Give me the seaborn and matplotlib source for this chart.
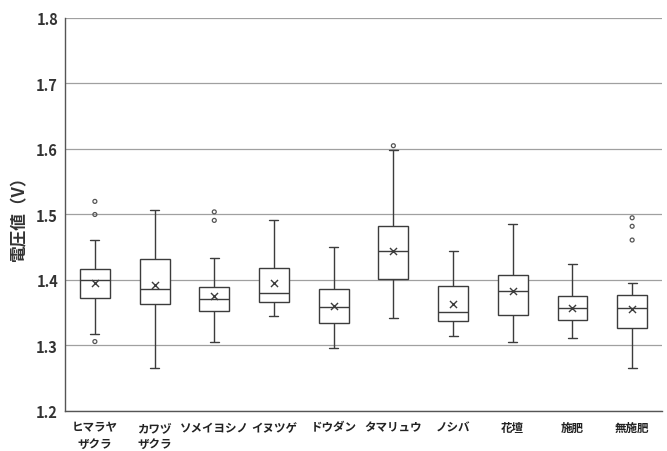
import numpy as np
import pandas as pd
import matplotlib
matplotlib.use("Agg")
import matplotlib.pyplot as plt
import seaborn as sns

categories = ["ヒマラヤ\nザクラ", "カワヅ\nザクラ", "ソメイヨシノ", "イヌツゲ", "ドウダン",
              "タマリュウ", "ノシバ", "花壇", "施肥", "無施肥"]
whisker_low = [1.318, 1.266, 1.306, 1.345, 1.296, 1.342, 1.314, 1.306, 1.312, 1.266]
q1 = [1.372, 1.364, 1.352, 1.367, 1.334, 1.402, 1.338, 1.346, 1.339, 1.327]
median = [1.400, 1.387, 1.371, 1.380, 1.359, 1.444, 1.351, 1.383, 1.357, 1.358]
q3 = [1.417, 1.432, 1.389, 1.419, 1.387, 1.482, 1.391, 1.408, 1.376, 1.377]
whisker_high = [1.461, 1.507, 1.434, 1.492, 1.450, 1.599, 1.445, 1.485, 1.425, 1.396]
means = [1.396, 1.393, 1.376, 1.395, 1.360, 1.444, 1.364, 1.383, 1.358, 1.356]
outliers = [[1.520, 1.500, 1.306], [], [1.504, 1.491], [], [], [1.605], [], [], [],
            [1.495, 1.482, 1.461]]

# five-number summaries as long-form data
rows = []
for i, c in enumerate(categories):
    for v in (whisker_low[i], q1[i], median[i], q3[i], whisker_high[i]):
        rows.append({"cat": c, "v": v})
box_df = pd.DataFrame(rows)
mean_df = pd.DataFrame({"cat": categories, "v": means})
out_df = pd.DataFrame([{"cat": c, "v": v} for c, vs in zip(categories, outliers) for v in vs])

sns.set_theme(style="white")
plt.rcParams["font.family"] = ["Noto Sans CJK JP", "DejaVu Sans"]

fig = plt.figure(figsize=(6.67, 4.52), dpi=100)
ax = fig.add_axes([0.0975, 0.0885, 0.895, 0.8695])

line_c = "#3c3c3c"
sns.boxplot(data=box_df, x="cat", y="v", order=categories, whis=(0, 100),
            width=0.5, color="white", linecolor=line_c, linewidth=1.0,
            showfliers=False, ax=ax, capwidths=0.15)
sns.scatterplot(data=mean_df, x="cat", y="v", marker="x", color=line_c, s=26,
                linewidth=1.0, ax=ax, zorder=5)
sns.scatterplot(data=out_df, x="cat", y="v", marker="o", facecolor="none",
                edgecolor="#555555", s=8, linewidth=0.9, ax=ax, zorder=5)

ax.set_ylim(1.2, 1.8)
ax.set_xlim(-0.5, len(categories) - 0.5)
ax.set_yticks(np.arange(1.2, 1.81, 0.1))
ax.set_yticklabels([f"{t:.1f}" for t in np.arange(1.2, 1.81, 0.1)],
                   fontsize=10.5, fontweight="bold", color="#333333")
ax.tick_params(axis="y", length=0, pad=5)
ax.tick_params(axis="x", length=0, pad=7, labelsize=8.3, labelcolor="#222222")
for lbl in ax.get_xticklabels():
    lbl.set_fontweight("bold")
    lbl.set_linespacing(1.35)
ax.yaxis.grid(True, color="#a0a0a0", linewidth=0.9)
ax.set_axisbelow(True)
for s in ("top", "right"):
    ax.spines[s].set_visible(False)
for s in ("left", "bottom"):
    ax.spines[s].set_color("#555555")
    ax.spines[s].set_linewidth(1.0)
ax.set_xlabel("")
ax.set_ylabel("電圧値（V）", fontsize=12, fontweight="bold", color="#333333", labelpad=6)

fig.savefig("out.png", dpi=100)
